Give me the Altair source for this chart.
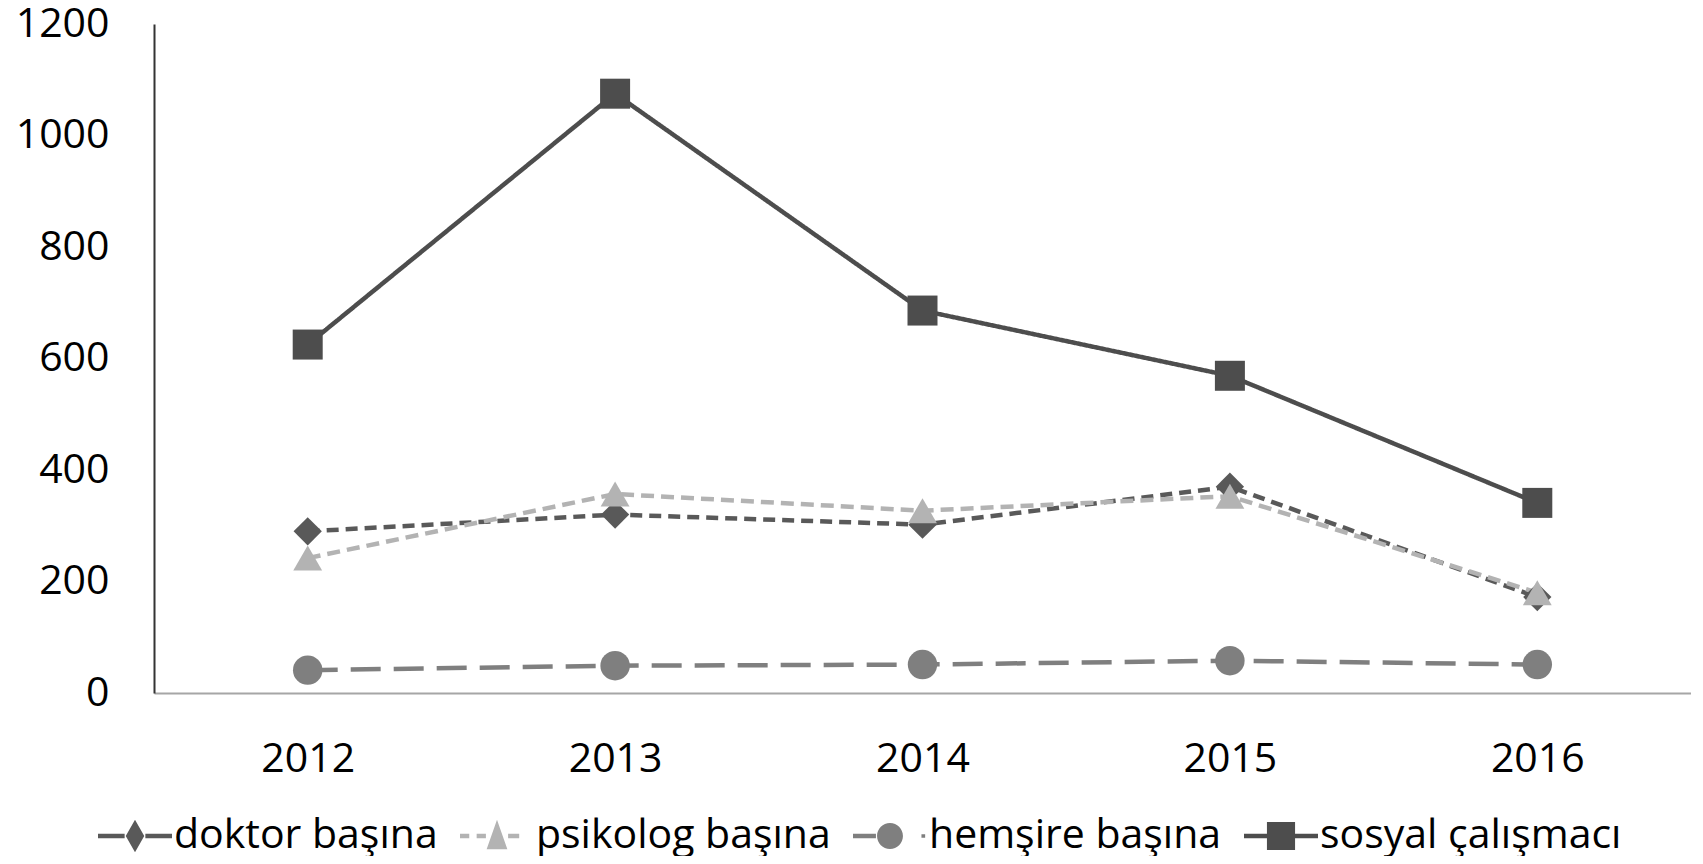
import altair as alt
import pandas as pd

years = ["2012", "2013", "2014", "2015", "2016"]
series = ["doktor başına", "psikolog başına", "hemşire başına", "sosyal çalışmacı"]
doktor = [290, 320, 302, 370, 172]
psikolog = [242, 357, 327, 353, 180]
hemsire = [41, 49, 51, 58, 51]
sosyal = [625, 1075, 686, 569, 341]

colors = ["#595959", "#b3b3b3", "#7f7f7f", "#4d4d4d"]
shapes = ["diamond", "triangle-up", "circle", "square"]
dashes = [[12, 7], [13, 7], [30, 13], [1, 0]]
widths = [4.5, 4.5, 4.5, 4]
sizes = [800, 900, 800, 880]

# legend symbols: line segment + marker, in a -1..1 box
leg_paths = [
    "M-1,-0.06H-0.28V0.06H-1Z M0.28,-0.06H1V0.06H0.28Z M0,-0.44L0.25,0L0,0.44L-0.25,0Z",
    "M-1,-0.06H-0.75V0.06H-1Z M-0.55,-0.06H-0.3V0.06H-0.55Z M0.3,-0.06H0.6V0.06H0.3Z M0,-0.44L0.28,0.36L-0.28,0.36Z",
    "M-1,-0.06H-0.38V0.06H-1Z M0.35,0A0.35,0.35 0 1,1 -0.35,0A0.35,0.35 0 1,1 0.35,0Z M0.85,-0.05H0.95V0.05H0.85Z",
    "M-1,-0.06H-0.3V0.06H-1Z M0.3,-0.06H1V0.06H0.3Z M-0.38,-0.38H0.38V0.38H-0.38Z",
]

rows = []
for name, vals in zip(series, [doktor, psikolog, hemsire, sosyal]):
    for y, v in zip(years, vals):
        rows.append({"year": y, "value": v, "series": name})
df = pd.DataFrame(rows)

FONT = "Open Sans"

x = alt.X("year:N", sort=years, scale=alt.Scale(padding=0.5),
          axis=alt.Axis(title=None, labelAngle=0, labelFontSize=41, labelFont=FONT,
                        labelColor="#000000", ticks=False, labelPadding=46,
                        domainColor="#a6a6a6", domainWidth=2))
y = alt.Y("value:Q", scale=alt.Scale(domain=[0, 1200], nice=False),
          axis=alt.Axis(title=None, values=[0, 200, 400, 600, 800, 1000, 1200], grid=False,
                        format="d", ticks=False, labelFontSize=41, labelFont=FONT,
                        labelColor="#000000", labelPadding=45, domainColor="#333333",
                        domainWidth=2))

color = alt.Color("series:N", sort=series, scale=alt.Scale(domain=series, range=colors), legend=None)

lines = alt.Chart(df).mark_line().encode(
    x=x, y=y, color=color,
    strokeDash=alt.StrokeDash("series:N", sort=series, scale=alt.Scale(domain=series, range=dashes), legend=None),
    strokeWidth=alt.StrokeWidth("series:N", sort=series, scale=alt.Scale(domain=series, range=widths), legend=None),
)

points = alt.Chart(df).mark_point(filled=True, opacity=1).encode(
    x=x, y=y, color=color,
    shape=alt.Shape("series:N", sort=series, scale=alt.Scale(domain=series, range=shapes), legend=None),
    size=alt.Size("series:N", sort=series, scale=alt.Scale(domain=series, range=sizes), legend=None),
)

main = alt.layer(lines, points)

legend_layer = alt.Chart(df).mark_point(filled=True, opacity=1).encode(
    x=x, y=y,
    size=alt.value(0),
    color=alt.Color("series:N", sort=series, scale=alt.Scale(domain=series, range=colors),
                    legend=alt.Legend(title=None, orient="none", legendX=-56, legendY=775,
                                      direction="horizontal", columns=4, symbolSize=5476,
                                      symbolOpacity=1, symbolStrokeWidth=0,
                                      labelFont=FONT, labelFontSize=41, labelColor="#000000",
                                      labelOffset=2, columnPadding=22, labelLimit=400)),
    shape=alt.Shape("series:N", sort=series, scale=alt.Scale(domain=series, range=leg_paths)),
)

chart = alt.layer(main, legend_layer).resolve_scale(
    color="independent", shape="independent"
).properties(
    width=1537, height=669,
    autosize=alt.AutoSizeParams(type="none"),
    padding={"left": 146, "top": 16, "right": 0, "bottom": 163},
).configure_view(stroke=None)

chart.save("out.html", embed_options={"renderer": "svg", "actions": False})
